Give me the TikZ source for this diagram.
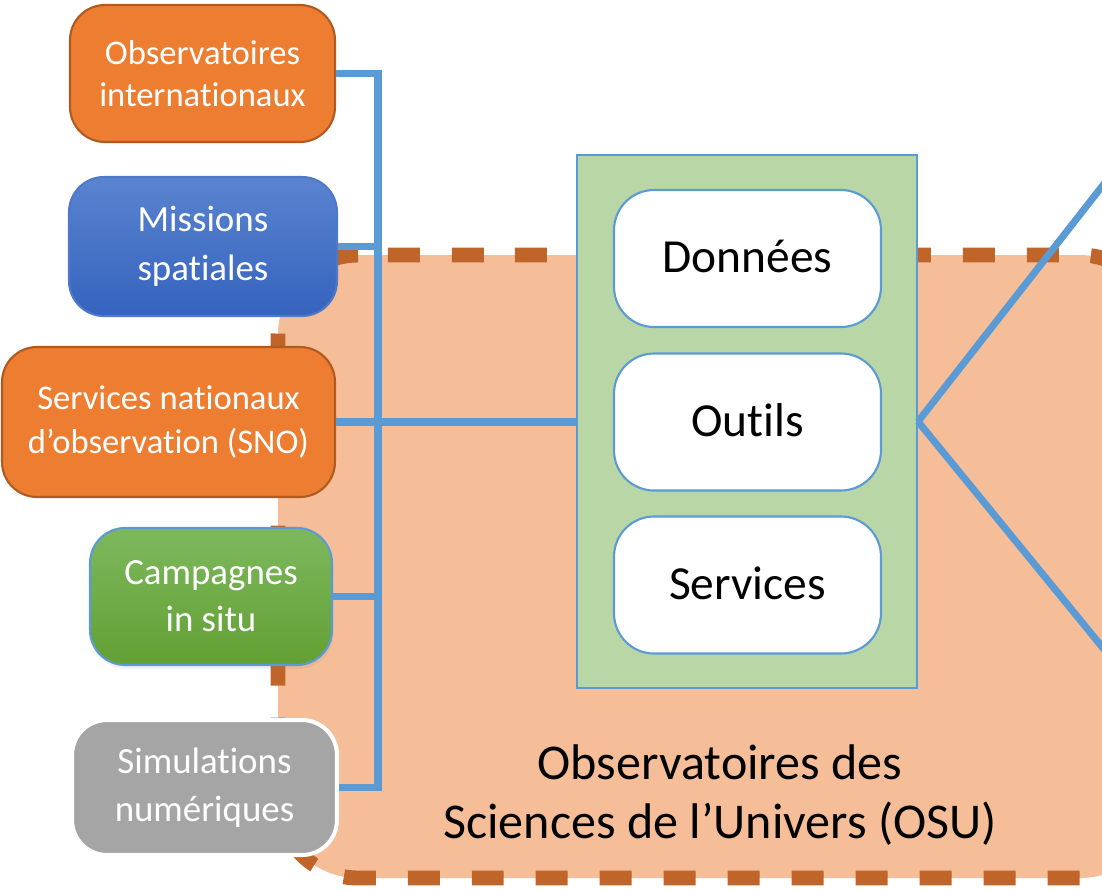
\documentclass[tikz,border=0pt]{standalone}
\usepackage{fontspec}
\setmainfont[Ligatures=NoCommon]{Carlito}
\usetikzlibrary{shadows}
\definecolor{osufill}{HTML}{F5BE98}
\definecolor{osuline}{HTML}{C0652A}
\definecolor{orangebox}{HTML}{ED7D31}
\definecolor{orangeline}{HTML}{AE5A21}
\definecolor{busblue}{HTML}{5B9BD5}
\definecolor{panelgreen}{HTML}{B9D7A6}
\definecolor{grisbox}{HTML}{A5A5A5}
\definecolor{bleuhaut}{HTML}{5A84D0}
\definecolor{bleubas}{HTML}{3563BD}
\definecolor{bleuline}{HTML}{5078C8}
\definecolor{verthaut}{HTML}{7EB85E}
\definecolor{vertbas}{HTML}{62A033}
\tikzset{
  srcbox/.style={rounded corners=.7cm, minimum width=5.3cm, minimum height=2.74cm,
    inner sep=0pt, align=center, text=white, line width=1.2pt},
  itembox/.style={rounded corners=.8cm, draw=busblue, fill=white, line width=1.2pt,
    minimum width=5.34cm, minimum height=2.74cm, inner sep=0pt, text depth=.25em,
    font=\fontsize{27}{32}\selectfont},
  bus/.style={busblue, line width=4.5pt},
}
\begin{document}
\begin{tikzpicture}[x=.02cm, y=-.02cm]
  \clip (0,0) rectangle (1102,890);
  \fill[osufill, rounded corners=1.6cm] (278,255) rectangle (1160,878);
  \draw[osuline, line width=8.5pt, dash pattern=on .64cm off .64cm, rounded corners=1.6cm]
    (435,255) -- (1160,255) -- (1160,878) -- (278,878) -- (278,255) -- cycle;
  \node[draw=busblue, fill=panelgreen, line width=1.2pt, minimum width=6.8cm,
    minimum height=10.66cm, inner sep=0pt] (panel) at (747,421.5) {};
  \node[itembox] (donnees) at (747.5,258.5) {Données};
  \node[itembox] (outils) at (747.5,422) {Outils};
  \node[itembox] (services) at (747.5,585) {Services};
  \node[align=center, font=\fontsize{28.5}{34}\selectfont] (osu) at (720,795)
    {Observatoires des\\Sciences de l’Univers (OSU)};
  \coordinate (bus) at (378,0);
  \coordinate (zoomtop) at (1125,157);
  \coordinate (zoombot) at (1125,675);
  \node[srcbox, fill=orangebox, draw=orangeline, font=\fontsize{19.7}{24}\selectfont]
    (obsint) at (202.5,73.5) {Observatoires\\internationaux};
  \node[srcbox, top color=bleuhaut, bottom color=bleubas, draw=bleuline,
    minimum width=5.36cm, minimum height=2.78cm, font=\fontsize{21}{28}\selectfont]
    (missions) at (203,246.5) {Missions\\spatiales};
  \node[srcbox, fill=orangebox, draw=orangeline, minimum width=6.66cm, minimum height=3cm,
    font=\fontsize{19.7}{25}\selectfont] (sno) at (168.5,422)
    {Services nationaux\\d’observation (SNO)};
  \node[srcbox, top color=verthaut, bottom color=vertbas, draw=busblue, minimum width=4.84cm,
    drop shadow={opacity=.12, shadow xshift=.03cm, shadow yshift=-.08cm},
    font=\fontsize{21}{26.7}\selectfont] (campagnes) at (211,596.5) {Campagnes\\in situ};
  \node[srcbox, fill=grisbox, draw=white, line width=2.3pt, minimum height=2.7cm,
    font=\fontsize{21}{27.3}\selectfont] (simnum) at (204.5,787.5) {Simulations\\numériques};
  \draw[bus] (obsint.east) -- (obsint.east -| bus) -- (simnum.east -| bus) -- (simnum.east);
  \foreach \n in {missions,campagnes}
    \draw[bus] (\n.east) -- (\n.east -| bus);
  \draw[bus] (sno.east) -- (sno.east -| panel.west);
  \draw[busblue, line width=4pt] (panel.east) -- (zoomtop);
  \draw[busblue, line width=4pt] (panel.east) -- (zoombot);
\end{tikzpicture}
\end{document}
